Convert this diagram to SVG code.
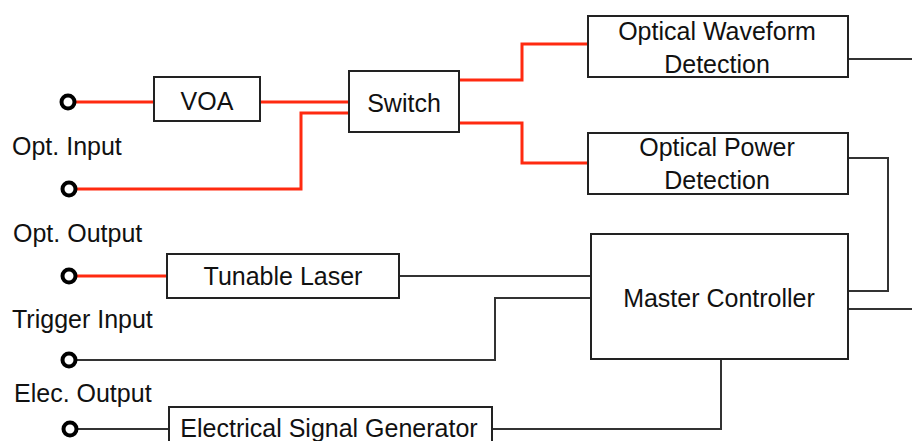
<svg xmlns="http://www.w3.org/2000/svg" width="912" height="441" viewBox="0 0 912 441">
<style>
.box{fill:#fff;stroke:#222;stroke-width:2}
.t{font-family:"Liberation Sans",Arial,sans-serif;font-size:25px;fill:#111}
.c{text-anchor:middle}
.red{fill:none;stroke:#ff2a10;stroke-width:3}
.blk{fill:none;stroke:#333;stroke-width:2}
.port{fill:#fff;stroke:#000;stroke-width:4}
</style>
<rect width="912" height="441" fill="#fff"/>
<g id="connectors">
<path class="red" d="M74 102 H154"/>
<path class="red" d="M260 102 H349"/>
<path class="red" d="M76 189 H301 V113 H349"/>
<path class="red" d="M459 80 H522 V44 H588"/>
<path class="red" d="M459 123 H522 V163 H588"/>
<path class="red" d="M76 276 H167"/>
<path class="blk" d="M399 276 H591"/>
<path class="blk" d="M76 360 H495 V298 H591"/>
<path class="blk" d="M76 429 H169"/>
<path class="blk" d="M721 359 V429 H492"/>
<path class="blk" d="M848 59 H912"/>
<path class="blk" d="M848 158 H888 V291 H848"/>
<path class="blk" d="M848 309 H912"/>
</g>
<g id="port-opt-input"><circle class="port" cx="68" cy="102" r="6.5"/></g>
<g id="port-opt-output"><circle class="port" cx="69" cy="189" r="6.5"/></g>
<g id="port-laser"><circle class="port" cx="69" cy="276" r="6.5"/></g>
<g id="port-trigger"><circle class="port" cx="69" cy="360" r="6.5"/></g>
<g id="port-elec"><circle class="port" cx="70" cy="429" r="6.5"/></g>
<g id="labels">
<text class="t" x="12" y="155">Opt. Input</text>
<text class="t" x="13" y="242">Opt. Output</text>
<text class="t" x="12" y="328">Trigger Input</text>
<text class="t" x="14" y="402">Elec. Output</text>
</g>
<g id="voa"><rect class="box" x="154" y="77" width="106" height="44"/><text class="t c" x="207" y="110">VOA</text></g>
<g id="switch"><rect class="box" x="349" y="71" width="110" height="61"/><text class="t c" x="404" y="112">Switch</text></g>
<g id="owd"><rect class="box" x="588" y="16" width="260" height="61"/><text class="t c" x="717" y="40">Optical Waveform</text><text class="t c" x="717" y="73">Detection</text></g>
<g id="opd"><rect class="box" x="588" y="133" width="260" height="61"/><text class="t c" x="717" y="156">Optical Power</text><text class="t c" x="717" y="189">Detection</text></g>
<g id="laser"><rect class="box" x="167" y="254" width="232" height="44"/><text class="t c" x="283" y="285">Tunable Laser</text></g>
<g id="master"><rect class="box" x="591" y="234" width="257" height="125"/><text class="t c" x="719" y="307">Master Controller</text></g>
<g id="esg"><rect class="box" x="169" y="407" width="323" height="50"/><text class="t c" x="329" y="437">Electrical Signal Generator</text></g>
</svg>
